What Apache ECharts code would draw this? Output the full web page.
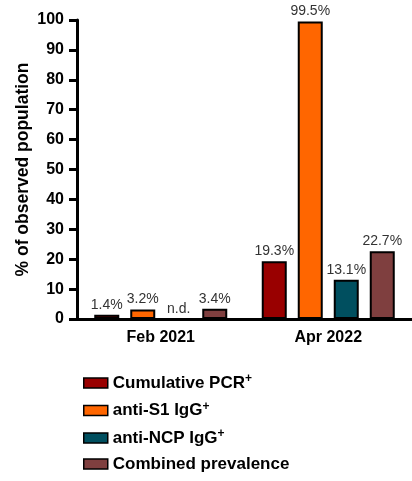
<!DOCTYPE html>
<html>
<head>
<meta charset="UTF-8">
<script src="https://cdn.jsdelivr.net/npm/echarts@6/dist/echarts.min.js"></script>
<style>
  body { margin: 0; background: #fff; }
  #chart { width: 412px; height: 481px; }
</style>
</head>
<body>
<div id="chart"></div>
<script>
// data
const categories = ['Feb 2021', 'Apr 2022'];
const seriesNames = ['Cumulative PCR', 'anti-S1 IgG', 'anti-NCP IgG', 'Combined prevalence'];
const superscripts = ['+', '+', '+', ''];
const pcrValues = [1.4, 19.3];
const s1Values = [3.2, 99.5];
const ncpValues = [null, 13.1];   // null = n.d.
const combinedValues = [3.4, 22.7];
const colors = ['#990000', '#ff6600', '#004f5f', '#7f3f3f'];

const allValues = [pcrValues, s1Values, ncpValues, combinedValues];

const chart = echarts.init(document.getElementById('chart'));
const font = 'Liberation Sans, Arial, sans-serif';

const series = seriesNames.map((name, i) => ({
  name: name,
  type: 'bar',
  barWidth: 25,
  barGap: '44%',
  itemStyle: { color: colors[i], borderColor: '#000', borderWidth: 2 },
  label: {
    show: true,
    position: 'top',
    distance: 3,
    fontFamily: font,
    fontSize: 14,
    color: '#333',
    formatter: p => p.data.nd ? 'n.d.' : p.value.toFixed(1) + '%'
  },
  data: allValues[i].map(v => v === null
    ? { value: 0, nd: true, itemStyle: { color: 'transparent', borderWidth: 0 } }
    : { value: v })
}));

const option = {
  animation: false,
  grid: { left: 77, right: 0, top: 20, bottom: 162 },
  legend: {
    orient: 'vertical',
    left: 78,
    top: 368,
    height: 130,
    itemWidth: 24,
    itemHeight: 10,
    itemGap: 9,
    icon: 'rect',
    data: seriesNames.map(n => ({ name: n, itemStyle: { borderColor: '#000', borderWidth: 1.5 } })),
    formatter: name => {
      const i = seriesNames.indexOf(name);
      return '{a|' + name + '}' + (superscripts[i] ? '{sup|' + superscripts[i] + '}' : '');
    },
    textStyle: {
      rich: {
        a: { fontFamily: font, fontSize: 17, fontWeight: 'bold', color: '#000', lineHeight: 20 },
        sup: { fontFamily: font, fontSize: 12, fontWeight: 'bold', color: '#000', verticalAlign: 'top', lineHeight: 20 }
      }
    }
  },
  xAxis: {
    type: 'category',
    data: categories,
    axisLine: { lineStyle: { color: '#000', width: 3 } },
    axisTick: { alignWithLabel: true, length: 7, lineStyle: { width: 3, color: '#000' } },
    axisLabel: { fontFamily: font, fontSize: 16, fontWeight: 'bold', color: '#000', margin: 11 }
  },
  yAxis: {
    type: 'value',
    min: 0,
    max: 100,
    interval: 10,
    name: '% of observed population',
    nameLocation: 'middle',
    nameGap: 45,
    nameMoveOverlap: false,
    nameTextStyle: { fontFamily: font, fontSize: 17.5, fontWeight: 'bold', color: '#000' },
    splitLine: { show: false },
    axisLine: { show: true, lineStyle: { color: '#000', width: 3 } },
    axisTick: { show: true, length: 8, lineStyle: { width: 3, color: '#000' } },
    axisLabel: { fontFamily: font, fontSize: 16, fontWeight: 'bold', color: '#000', margin: 13 }
  },
  series: series
};

chart.setOption(option);
</script>
</body>
</html>
